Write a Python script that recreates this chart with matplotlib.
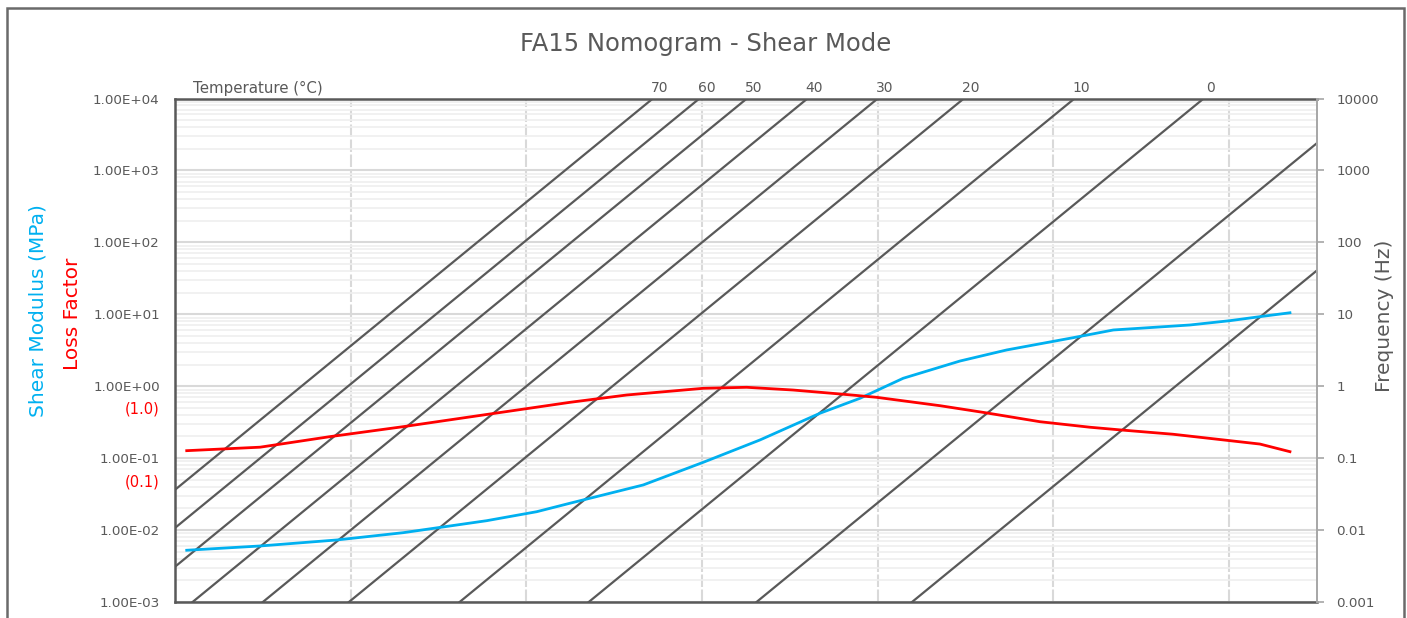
import matplotlib.pyplot as plt
from matplotlib.patches import Rectangle
from matplotlib.ticker import FixedLocator, FixedFormatter, NullLocator, LogLocator
from matplotlib.transforms import blended_transform_factory

# Courbe maitresse (frequence reduite en Hz)
freq_mod = [1.36e-6, 9.3e-6, 6.9e-5, 3.97e-4, 3.53e-3, 1.31e-2, 3.13e-2, 0.214,
            1.03, 4.56, 22.0, 62.7, 195, 863, 2930, 1.68e4, 4.80e4, 3.58e5,
            1.02e6, 2.24e6, 4.92e6]
modulus = [5.24e-3, 6.01e-3, 7.28e-3, 9.2e-3, 1.35e-2, 1.80e-2, 2.36e-2, 4.24e-2,
           8.75e-2, 0.179, 0.421, 0.679, 1.29, 2.24, 3.19, 4.73, 6.05, 7.10,
           8.15, 9.27, 10.5]

freq_loss = [1.36e-6, 9.3e-6, 5.8e-5, 3.97e-4, 3.85e-3, 3.13e-2, 0.139, 1.03,
             3.22, 10.9, 40.5, 97, 511, 1660, 7010, 2.60e4, 5.97e4, 2.29e5,
             1.02e6, 2.24e6, 4.92e6]
loss = [0.127, 0.142, 0.199, 0.274, 0.411, 0.597, 0.755, 0.935, 0.966, 0.885,
        0.773, 0.701, 0.536, 0.429, 0.321, 0.269, 0.246, 0.215, 0.175, 0.157,
        0.123]

# Isothermes : log10 du facteur de decalage aT
temp_labels = ["70", "60", "50", "40", "30", "20", "10", "0", "", ""]
log_at = [-4.56, -4.03, -3.49, -2.80, -2.00, -1.02, 0.24, 1.71, 3.62, 5.39]

y_ticks = [1e-3, 1e-2, 1e-1, 1e0, 1e1, 1e2, 1e3, 1e4]
left_labels = ["1.00E-03", "1.00E-02", "1.00E-01", "1.00E+00",
               "1.00E+01", "1.00E+02", "1.00E+03", "1.00E+04"]
right_labels = ["0.001", "0.01", "0.1", "1", "10", "100", "1000", "10000"]
x_grid = [1e-4, 1e-2, 1e0, 1e2, 1e4, 1e6]

gris = '#595959'
bleu = '#00B0F0'
rouge = '#FF0000'
W, H = 1407, 618

plt.rcParams['font.family'] = 'DejaVu Sans'
fig = plt.figure(figsize=(W / 100, H / 100), dpi=100)
fig.patches.append(Rectangle((7 / W, -0.05), 1397 / W, 1.05 - 8 / H,
                             transform=fig.transFigure, fill=False,
                             edgecolor='#6a6a6a', linewidth=1.8))

ax = fig.add_axes([175 / W, 1 - 602 / H, 1142 / W, 503.5 / H])
ax.set_xscale('log')
ax.set_yscale('log')
ax.set_xlim(1e-6, 1e7)
ax.set_ylim(1e-3, 1e4)
ax.set_axisbelow(True)

# grilles
ax.xaxis.set_major_locator(FixedLocator(x_grid))
ax.xaxis.set_minor_locator(NullLocator())
ax.yaxis.set_major_locator(FixedLocator(y_ticks))
ax.yaxis.set_major_formatter(FixedFormatter(left_labels))
ax.yaxis.set_minor_locator(LogLocator(base=10, subs=range(2, 10), numticks=20))
ax.grid(axis='y', which='minor', color='#efefef', linewidth=1.2)
ax.grid(axis='y', which='major', color='#d9d9d9', linewidth=1.5)
ax.grid(axis='x', which='major', color='#d9d9d9', linewidth=1.5,
        linestyle=(0, (6, 1.2)))
ax.tick_params(axis='x', which='both', length=0, labelbottom=False)
ax.tick_params(axis='y', which='both', length=0, pad=11,
               labelsize=9.7, labelcolor=gris)
for s in ['left', 'bottom', 'top']:
    ax.spines[s].set_color(gris)
    ax.spines[s].set_linewidth(1.8)
ax.spines['right'].set_visible(False)

# isothermes
x_ends = [1e-6, 1e7]
for lab, s in zip(temp_labels, log_at):
    ax.plot(x_ends, [x / 10 ** s for x in x_ends], color=gris, linewidth=1.6,
            zorder=2)
    if lab:
        ax.annotate(lab, xy=(1e4 * 10 ** s, 1e4), xytext=(7, 3),
                    textcoords='offset pixels', ha='center', va='bottom',
                    fontsize=10, color=gris, annotation_clip=False)
ax.annotate("Temperature (°C)", xy=(0, 1), xycoords='axes fraction',
            xytext=(18, 3), textcoords='offset pixels', ha='left',
            va='bottom', fontsize=10.8, color=gris)

# courbes
ax.plot(freq_mod, modulus, color=bleu, linewidth=2.0, zorder=3)
ax.plot(freq_loss, loss, color=rouge, linewidth=2.0, zorder=3)

# reperes facteur de perte
trans = blended_transform_factory(ax.transAxes, ax.transData)
ax.text(-0.0135, 0.48, "(1.0)", transform=trans, ha='right', va='center',
        fontsize=10.5, color=rouge)
ax.text(-0.0135, 0.046, "(0.1)", transform=trans, ha='right', va='center',
        fontsize=10.5, color=rouge)

# axe de droite
ax2 = ax.twinx()
ax2.set_yscale('log')
ax2.set_ylim(1e-3, 1e4)
ax2.yaxis.set_major_locator(FixedLocator(y_ticks))
ax2.yaxis.set_major_formatter(FixedFormatter(right_labels))
ax2.yaxis.set_minor_locator(NullLocator())
ax2.tick_params(axis='y', length=5, width=1.2, color='#a6a6a6', pad=9,
                labelsize=9.7, labelcolor=gris)
for s in ['left', 'bottom', 'top']:
    ax2.spines[s].set_visible(False)
ax2.spines['right'].set_color('#a6a6a6')
ax2.spines['right'].set_linewidth(1.4)

# titres
fig.text(706 / W, 1 - 44 / H, "FA15 Nomogram - Shear Mode", ha='center',
         va='center', fontsize=17.5, color=gris)
fig.text(38 / W, 1 - 311 / H, "Shear Modulus (MPa)", rotation=90,
         ha='center', va='center', fontsize=14.5, color=bleu)
fig.text(72 / W, 1 - 314 / H, "Loss Factor", rotation=90,
         ha='center', va='center', fontsize=14.5, color=rouge)
fig.text(1385 / W, 1 - 316 / H, "Frequency (Hz)", rotation=90,
         ha='center', va='center', fontsize=14.5, color=gris)

fig.savefig('out.png', dpi=100)
